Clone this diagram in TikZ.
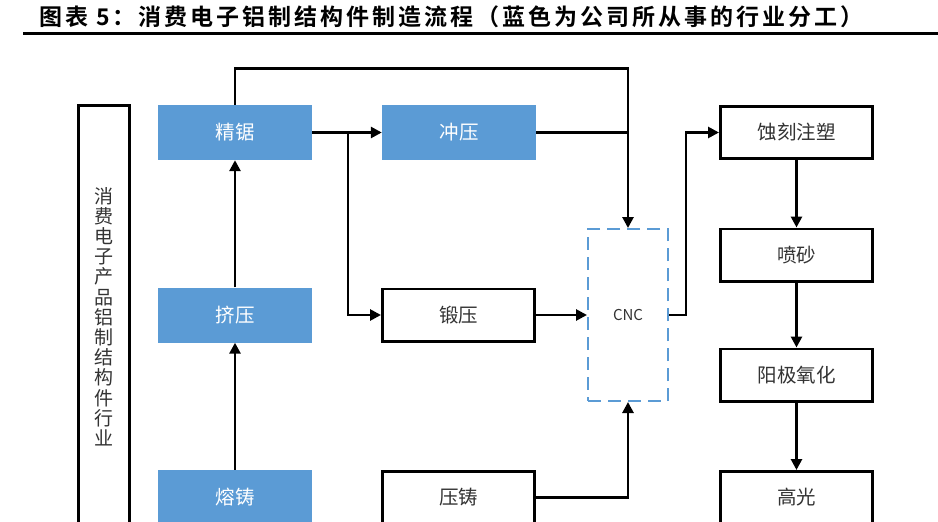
\documentclass[tikz,border=0pt]{standalone}
\usepackage{fontspec}
\newfontfamily\cjk{Noto Sans CJK SC}
\newfontfamily\cjktitle[LetterSpace=13]{Noto Sans CJK SC Bold}
\usetikzlibrary{arrows.meta}
\definecolor{bblue}{HTML}{5B9BD5}
\definecolor{tgray}{HTML}{333333}
\begin{document}
\begin{tikzpicture}[x=1pt,y=-1pt,
  bluebox/.style={draw=none, fill=bblue, minimum width=154pt, minimum height=55pt, inner sep=0pt,
    text=white, font=\cjk\fontsize{19.5}{23}\selectfont},
  whitebox/.style={draw=black, line width=2.7pt, fill=white, minimum width=152.3pt, minimum height=52.3pt,
    inner sep=0pt, text=tgray, font=\cjk\fontsize{19.5}{23}\selectfont},
  cncbox/.style={draw=bblue, line width=2pt, dash pattern=on 13pt off 7pt, minimum width=80pt, minimum height=172pt,
    inner sep=0pt, text=tgray, font=\cjk\fontsize{15}{17}\selectfont},
  arr/.style={line width=2.7pt, -{Triangle[length=11pt,width=11pt]}},
  conn/.style={line width=2.7pt}]
\useasboundingbox (0,0) rectangle (938,522);
\clip (0,0) rectangle (938,522);
\fill[white] (0,0) rectangle (938,522);
% title
\node[anchor=west, inner sep=0pt, font=\cjktitle\fontsize{23}{27}\selectfont] (title) at (39,17)
  {图表 5：消费电子铝制结构件制造流程（蓝色为公司所从事的行业分工）};
\coordinate (rl) at (23,33.7);
\coordinate (rr) at (940,33.7);
\draw[line width=2.7pt] (rl) -- (rr);
% side box
\node[draw=black, line width=2.7pt, minimum width=51.3pt, minimum height=492.3pt, inner sep=0pt] (side) at (104,351.5) {};
\node[align=center, text width=22pt, inner sep=0pt, text=tgray, font=\cjk\fontsize{19}{20.2}\selectfont] (sidetext) at (104,316.5)
  {消\\费\\电\\子\\产\\品\\铝\\制\\结\\构\\件\\行\\业};
% boxes
\node[bluebox] (jj) at (235,132.5) {精锯};
\node[bluebox] (cy) at (459,132.5) {冲压};
\node[bluebox] (jy) at (235,315) {挤压};
\node[bluebox] (rz) at (235,497.5) {熔铸};
\node[whitebox] (dy) at (458.5,315) {锻压};
\node[whitebox] (yz) at (458.5,497.5) {压铸};
\node[cncbox] (cnc) at (628,315) {CNC};
\node[whitebox] (sk) at (796.5,132.5) {蚀刻注塑};
\node[whitebox] (ps) at (796.5,255) {喷砂};
\node[whitebox] (yj) at (796.5,375) {阳极氧化};
\node[whitebox] (gg) at (796.5,497.5) {高光};
% connectors
\draw[arr] (rz.north) -- (jy.south);
\draw[arr] (jy.north) -- (jj.south);
\draw[arr] (jj.north) -- ++(0,-36) -| (cnc.north);
\draw[arr] (jj.east) -- (cy.west);
\coordinate (br) at (348,132.5);
\draw[arr] (br) |- (dy.west);
\draw[conn] (cy.east) -- (cy.east -| cnc.north);
\draw[arr] (dy.east) -- (cnc.west);
\draw[arr] (yz.east) -| (cnc.south);
\draw[arr] (cnc.east) -- ++(17,0) |- (sk.west);
\draw[arr] (sk.south) -- (ps.north);
\draw[arr] (ps.south) -- (yj.north);
\draw[arr] (yj.south) -- (gg.north);
\end{tikzpicture}
\end{document}
